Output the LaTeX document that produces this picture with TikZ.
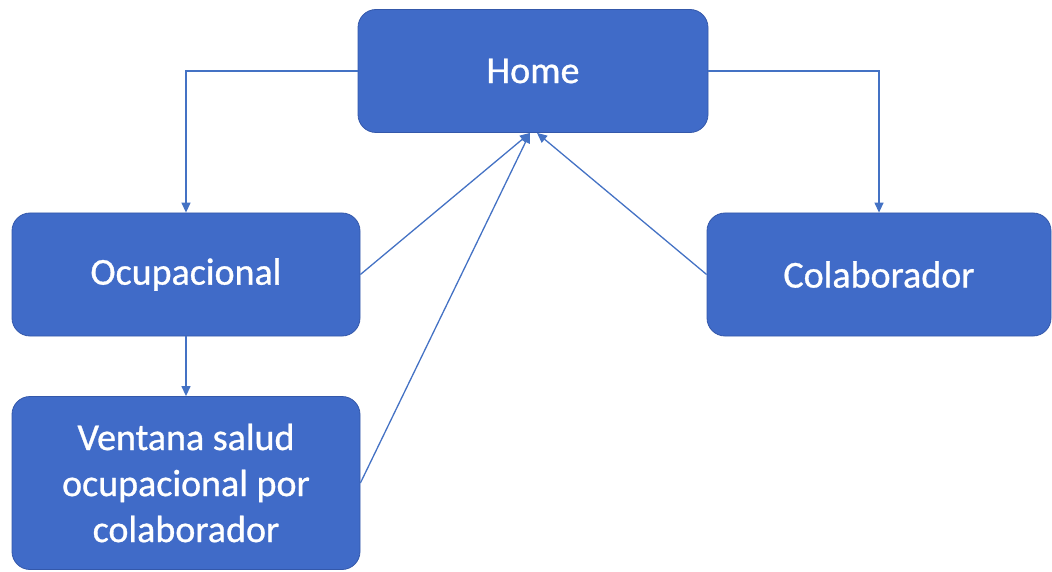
\documentclass[tikz,border=0pt]{standalone}
\usepackage{fontspec}
\setmainfont{Carlito}
% slightly heavier face for the box labels
\newfontfamily\labelface{Carlito}[FakeBold=0.8]
\usetikzlibrary{arrows.meta}
\definecolor{boxfill}{RGB}{64,107,200}
\definecolor{boxedge}{RGB}{52,88,170}
\definecolor{linkblue}{RGB}{68,114,196}
\tikzset{
  screen/.style={draw=boxedge, line width=0.8pt, fill=boxfill, rounded corners=18pt,
    text=white, font=\labelface\fontsize{38}{46}\selectfont, align=center, inner sep=0pt},
  link/.style={draw=linkblue, line width=1.3pt, -{Triangle[length=10pt,width=9pt]}}
}
\begin{document}
\begin{tikzpicture}[x=1pt,y=-1pt]
  \useasboundingbox (0,0) rectangle (1052,572);
  \node[screen, minimum width=350pt, minimum height=123pt] (home) at (533,71) {Home};
  \node[screen, minimum width=348pt, minimum height=123pt] (ocup) at (186,274.5) {Ocupacional};
  \node[screen, minimum width=344pt, minimum height=123pt] (colab) at (879,274.5) {Colaborador};
  \node[screen, minimum width=348pt, minimum height=173pt] (vent) at (186,483)
    {Ventana salud\\ocupacional por\\colaborador};
  \coordinate (hl) at ([xshift=-3pt]home.south);
  \coordinate (hr) at ([xshift=4pt]home.south);
  \draw[link] (home.west) -| (ocup.north);
  \draw[link] (home.east) -| (colab.north);
  \draw[link] (ocup.south) -- (vent.north);
  \draw[link] (ocup.east) -- (hl);
  \draw[link] (vent.east) -- (hl);
  \draw[link] (colab.west) -- (hr);
\end{tikzpicture}
\end{document}
